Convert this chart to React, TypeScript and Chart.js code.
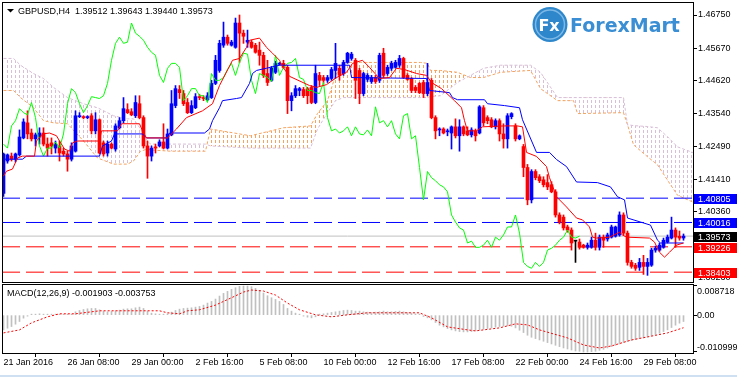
import React, { useEffect, useRef } from "react";
import { Chart, registerables } from "chart.js";

Chart.register(...registerables);

const FONT = "'Liberation Sans', Arial, sans-serif";
const LOGO_FONT = "'DejaVu Sans', Verdana, sans-serif";

// ---------- data ----------
const timeLabels = ["21 Jan 2016", "26 Jan 08:00", "29 Jan 00:00", "2 Feb 16:00", "5 Feb 08:00", "10 Feb 00:00", "12 Feb 16:00", "17 Feb 08:00", "22 Feb 00:00", "24 Feb 16:00", "29 Feb 08:00"];
const timeTickBars = [0, 16, 32, 48, 64, 80, 96, 112, 128, 144, 160];
const priceTicks = [1.4675, 1.4567, 1.4462, 1.4354, 1.4249, 1.4141, 1.4036, 1.3823];
const levelValues = [1.40805, 1.40016, 1.39226, 1.38403];
const levelColors = ["#0000ff", "#0000ff", "#ff0000", "#ff0000"];
const bidPrice = 1.39573;
const macdTicks = [0.008718, 0, -0.010999];
const titleText = "GBPUSD,H4  1.39512 1.39643 1.39440 1.39573";
const macdTitle = "MACD(12,26,9) -0.001903 -0.003753";

const opens = [
  1.4096, 1.4201, 1.4217, 1.4207, 1.4221, 1.4276, 1.4325, 1.4292, 1.4273, 1.4279,
  1.4292, 1.4256, 1.4260, 1.4243, 1.4250, 1.4233, 1.4224, 1.4207, 1.4233, 1.4345,
  1.4345, 1.4342, 1.4348, 1.4299, 1.4335, 1.4260, 1.4227, 1.4256, 1.4240, 1.4309,
  1.4332, 1.4368, 1.4361, 1.4348, 1.4387, 1.4342, 1.4250, 1.4217, 1.4247, 1.4250,
  1.4263, 1.4243, 1.4286, 1.4381, 1.4433, 1.4420, 1.4391, 1.4358, 1.4374, 1.4410,
  1.4407, 1.4400, 1.4407, 1.4453, 1.4495, 1.4577, 1.4603, 1.4577, 1.4570, 1.4649,
  1.4616, 1.4587, 1.4587, 1.4577, 1.4561, 1.4544, 1.4485, 1.4463, 1.4489, 1.4515,
  1.4518, 1.4505, 1.4397, 1.4413, 1.4430, 1.4433, 1.4436, 1.4440, 1.4391, 1.4479,
  1.4472, 1.4463, 1.4469, 1.4495, 1.4502, 1.4485, 1.4521, 1.4534, 1.4528, 1.4495,
  1.4420, 1.4466, 1.4459, 1.4472, 1.4463, 1.4551, 1.4485, 1.4502, 1.4505, 1.4512,
  1.4534, 1.4479, 1.4469, 1.4440, 1.4453, 1.4456, 1.4420, 1.4463, 1.4342, 1.4302,
  1.4305, 1.4296, 1.4292, 1.4312, 1.4283, 1.4312, 1.4299, 1.4286, 1.4299, 1.4292,
  1.4374, 1.4342, 1.4335, 1.4312, 1.4332, 1.4289, 1.4273, 1.4345, 1.4315, 1.4273,
  1.4248, 1.4180, 1.4075, 1.4167, 1.4150, 1.4140, 1.4131, 1.4124, 1.4101, 1.4026,
  1.4019, 1.3987, 1.3977, 1.3941, 1.3938, 1.3928, 1.3921, 1.3921, 1.3944, 1.3921,
  1.3954, 1.3948, 1.3954, 1.3957, 1.3961, 1.4026, 1.3967, 1.3872, 1.3863, 1.3856,
  1.3872, 1.3859, 1.3863, 1.3912, 1.3912, 1.3921, 1.3938, 1.3951, 1.3977, 1.3957,
  1.39512,
];
const highs = [
  1.4227, 1.4224, 1.4227, 1.4227, 1.4302, 1.4338, 1.4364, 1.4305, 1.4292, 1.4309,
  1.4309, 1.4276, 1.4276, 1.4266, 1.4266, 1.4243, 1.4233, 1.4260, 1.4364, 1.4358,
  1.4348, 1.4348, 1.4355, 1.4358, 1.4338, 1.4266, 1.4266, 1.4260, 1.4322, 1.4342,
  1.4407, 1.4387, 1.4371, 1.4413, 1.4413, 1.4348, 1.4266, 1.4250, 1.4256, 1.4270,
  1.4322, 1.4305, 1.4430, 1.4446, 1.4446, 1.4430, 1.4404, 1.4397, 1.4420, 1.4417,
  1.4413, 1.4423, 1.4463, 1.4544, 1.4593, 1.4652, 1.4610, 1.4593, 1.4665, 1.4675,
  1.4626, 1.4626, 1.4593, 1.4583, 1.4587, 1.4554, 1.4528, 1.4508, 1.4525, 1.4521,
  1.4528, 1.4512, 1.4423, 1.4446, 1.4440, 1.4440, 1.4440, 1.4446, 1.4512, 1.4489,
  1.4479, 1.4479, 1.4505, 1.4583, 1.4512, 1.4528, 1.4554, 1.4554, 1.4534, 1.4502,
  1.4489, 1.4485, 1.4479, 1.4479, 1.4551, 1.4567, 1.4512, 1.4525, 1.4528, 1.4544,
  1.4538, 1.4485, 1.4472, 1.4446, 1.4456, 1.4463, 1.4518, 1.4469, 1.4348, 1.4309,
  1.4309, 1.4305, 1.4315, 1.4338, 1.4335, 1.4315, 1.4312, 1.4309, 1.4305, 1.4381,
  1.4381, 1.4348, 1.4342, 1.4338, 1.4338, 1.4322, 1.4355, 1.4358, 1.4322, 1.4286,
  1.4255, 1.4190, 1.4173, 1.4173, 1.4157, 1.4150, 1.4157, 1.4134, 1.4108, 1.4033,
  1.4026, 1.3993, 1.3984, 1.3943, 1.3948, 1.3931, 1.3935, 1.3954, 1.3967, 1.3961,
  1.3961, 1.3967, 1.3993, 1.3990, 1.4036, 1.4033, 1.3974, 1.3879, 1.3869, 1.3885,
  1.3895, 1.3885, 1.3918, 1.3925, 1.3935, 1.3951, 1.3961, 1.4019, 1.3984, 1.3974,
  1.39643,
];
const lows = [
  1.4086, 1.4194, 1.4201, 1.4198, 1.4217, 1.4273, 1.4273, 1.4266, 1.4250, 1.4256,
  1.4250, 1.4217, 1.4224, 1.4227, 1.4201, 1.4217, 1.4168, 1.4201, 1.4230, 1.4342,
  1.4338, 1.4338, 1.4289, 1.4289, 1.4224, 1.4217, 1.4217, 1.4240, 1.4233, 1.4305,
  1.4325, 1.4355, 1.4348, 1.4342, 1.4338, 1.4243, 1.4145, 1.4201, 1.4227, 1.4247,
  1.4240, 1.4240, 1.4283, 1.4374, 1.4404, 1.4381, 1.4355, 1.4355, 1.4371, 1.4400,
  1.4397, 1.4397, 1.4404, 1.4449, 1.4489, 1.4570, 1.4577, 1.4574, 1.4567, 1.4521,
  1.4583, 1.4570, 1.4567, 1.4551, 1.4512, 1.4472, 1.4446, 1.4459, 1.4485, 1.4512,
  1.4502, 1.4355, 1.4364, 1.4407, 1.4413, 1.4407, 1.4387, 1.4387, 1.4387, 1.4446,
  1.4453, 1.4456, 1.4463, 1.4469, 1.4463, 1.4479, 1.4518, 1.4528, 1.4404, 1.4387,
  1.4413, 1.4459, 1.4453, 1.4453, 1.4456, 1.4472, 1.4479, 1.4495, 1.4502, 1.4505,
  1.4469, 1.4463, 1.4423, 1.4423, 1.4420, 1.4407, 1.4413, 1.4338, 1.4273, 1.4283,
  1.4289, 1.4283, 1.4240, 1.4276, 1.4233, 1.4283, 1.4283, 1.4279, 1.4266, 1.4289,
  1.4315, 1.4322, 1.4309, 1.4305, 1.4266, 1.4243, 1.4243, 1.4338, 1.4266, 1.4270,
  1.4150, 1.4059, 1.4065, 1.4140, 1.4131, 1.4117, 1.4108, 1.4098, 1.4019, 1.3997,
  1.3977, 1.3970, 1.3912, 1.3872, 1.3915, 1.3918, 1.3915, 1.3918, 1.3912, 1.3912,
  1.3921, 1.3941, 1.3951, 1.3954, 1.3957, 1.3961, 1.3863, 1.3853, 1.3846, 1.3846,
  1.3833, 1.3830, 1.3859, 1.3905, 1.3908, 1.3918, 1.3935, 1.3948, 1.3921, 1.3944,
  1.39440,
];
const closes = [
  1.4224, 1.4221, 1.4207, 1.4224, 1.4279, 1.4328, 1.4289, 1.4273, 1.4286, 1.4292,
  1.4256, 1.4243, 1.4250, 1.4256, 1.4227, 1.4224, 1.4207, 1.4250, 1.4348, 1.4348,
  1.4342, 1.4345, 1.4299, 1.4335, 1.4227, 1.4224, 1.4256, 1.4243, 1.4315, 1.4332,
  1.4371, 1.4358, 1.4351, 1.4391, 1.4342, 1.4250, 1.4217, 1.4243, 1.4243, 1.4263,
  1.4243, 1.4289, 1.4387, 1.4436, 1.4423, 1.4387, 1.4358, 1.4381, 1.4410, 1.4407,
  1.4404, 1.4413, 1.4453, 1.4528, 1.4583, 1.4603, 1.4583, 1.4587, 1.4649, 1.4616,
  1.4606, 1.4593, 1.4570, 1.4554, 1.4544, 1.4479, 1.4456, 1.4502, 1.4518, 1.4518,
  1.4505, 1.4397, 1.4413, 1.4436, 1.4436, 1.4413, 1.4413, 1.4391, 1.4485, 1.4463,
  1.4463, 1.4472, 1.4498, 1.4518, 1.4479, 1.4521, 1.4551, 1.4548, 1.4463, 1.4420,
  1.4485, 1.4479, 1.4472, 1.4459, 1.4544, 1.4479, 1.4505, 1.4518, 1.4521, 1.4534,
  1.4472, 1.4466, 1.4430, 1.4430, 1.4423, 1.4420, 1.4456, 1.4342, 1.4299, 1.4305,
  1.4292, 1.4299, 1.4312, 1.4283, 1.4312, 1.4289, 1.4286, 1.4302, 1.4283, 1.4377,
  1.4325, 1.4332, 1.4312, 1.4332, 1.4289, 1.4273, 1.4348, 1.4355, 1.4273, 1.4283,
  1.4180, 1.4075, 1.4167, 1.4147, 1.4137, 1.4124, 1.4117, 1.4101, 1.4026, 1.4003,
  1.3984, 1.3977, 1.3935, 1.3941, 1.3921, 1.3921, 1.3928, 1.3944, 1.3921, 1.3954,
  1.3944, 1.3961, 1.3987, 1.3987, 1.4026, 1.3967, 1.3872, 1.3859, 1.3853, 1.3872,
  1.3859, 1.3872, 1.3912, 1.3918, 1.3928, 1.3944, 1.3954, 1.3977, 1.3954, 1.3951,
  1.39573,
];

// Ichimoku lines: [bar, price]
const tenkanPts = [
  [0, 1.4152], [0.75, 1.4168], [2.25, 1.4175], [3.5, 1.4211], [4.75, 1.4217], [7.75, 1.4217], [8.25, 1.4266],
  [9.75, 1.4289], [11.5, 1.4292], [13.25, 1.4283], [14, 1.4266], [15.25, 1.424], [16.5, 1.4233], [17.25, 1.426],
  [18.5, 1.4266], [24, 1.4266], [24.5, 1.4299], [28.5, 1.4299], [29.5, 1.4322], [34, 1.4322], [34.75, 1.4299],
  [35.75, 1.4276], [41, 1.4276], [43.25, 1.4305], [45.75, 1.4342], [49.75, 1.4364], [52.25, 1.4387], [54, 1.4446],
  [57.25, 1.4528], [59, 1.4534], [60.75, 1.457], [61.5, 1.4593], [64, 1.46], [65.75, 1.457], [67.25, 1.4551],
  [69, 1.4528], [69.75, 1.4508], [71.5, 1.4476], [76.5, 1.4446], [78.25, 1.444], [80.75, 1.4449], [83.25, 1.4472],
  [85.75, 1.4489], [87.25, 1.4518], [89.75, 1.4528], [91.5, 1.4505], [94, 1.4469], [96.5, 1.4472], [98.25, 1.4502],
  [100.25, 1.4498], [103.25, 1.4485], [105.75, 1.4479], [107, 1.4456], [109.5, 1.4436], [112.75, 1.4397],
  [114.5, 1.4374], [115.25, 1.4332], [116, 1.4299], [118.25, 1.4299], [119.75, 1.4312], [125.25, 1.4315],
  [128.5, 1.4315], [129.75, 1.4312], [130.75, 1.4229], [133.25, 1.4216], [135.75, 1.4183], [136.5, 1.4147],
  [138.25, 1.4085], [140.75, 1.4052], [143.25, 1.4016], [144.75, 1.401], [146.5, 1.3987], [147.25, 1.3954],
  [148.25, 1.3951], [151.5, 1.3954], [154, 1.397], [154.75, 1.3961], [155.75, 1.3954], [161.5, 1.3951],
  [162.75, 1.3938], [164, 1.3905], [165.25, 1.3889], [166.5, 1.3905], [168.25, 1.3928], [170, 1.3935],
];
const kijunPts = [
  [0, 1.4207], [4.75, 1.4207], [5.75, 1.4217], [24, 1.4217], [24.75, 1.425], [27, 1.4266], [27.75, 1.4289],
  [34.75, 1.4289], [35.75, 1.4276], [41, 1.4276], [41.5, 1.4292], [50.25, 1.4292], [51.5, 1.4305], [52.25, 1.4332],
  [54, 1.4374], [54.75, 1.4397], [58.25, 1.4404], [59.5, 1.4407], [61.5, 1.4453], [62.25, 1.4485], [63.25, 1.4495],
  [69, 1.4512], [86.5, 1.4512], [87, 1.4472], [105.75, 1.4469], [106.5, 1.443], [111.5, 1.4423], [112.25, 1.4407],
  [113.5, 1.44], [120.25, 1.44], [121, 1.4387], [125.25, 1.4381], [129, 1.4374], [129.75, 1.4335], [133.25, 1.4229],
  [136.5, 1.4229], [138.25, 1.4206], [140.75, 1.4183], [143.25, 1.4133], [148.5, 1.4131], [151.75, 1.4117],
  [153.5, 1.4085], [155.25, 1.4075], [156, 1.4016], [159.25, 1.4003], [161.75, 1.3993], [163.5, 1.3944],
  [164.25, 1.3935], [170, 1.3935],
];
const cloudBars = [0, 2.5, 4.25, 7.5, 10, 12.5, 16, 20, 23.5, 27.5, 31, 32.5, 34.25, 36, 36.75, 41.75, 50.5, 51.75, 61.75, 70, 76.75, 78.5, 81, 83, 85, 89.25, 104.25, 106, 106.75, 109.25, 113.5, 116.75, 120, 124.25, 131.75, 134.25, 138.5, 142.5, 143.5, 155, 156, 157.5, 161, 163.5, 166, 168.5, 172.5];
const senkouA = [1.4430, 1.4430, 1.4407, 1.4374, 1.4332, 1.4325, 1.4322, 1.4266, 1.4211, 1.4191, 1.4191, 1.4201, 1.4233, 1.4240, 1.4237, 1.4233, 1.4233, 1.4305, 1.4283, 1.4309, 1.4315, 1.4355, 1.4397, 1.4479, 1.4521, 1.4521, 1.4521, 1.4518, 1.4495, 1.4495, 1.4489, 1.4472, 1.4472, 1.4489, 1.4495, 1.4436, 1.4397, 1.4397, 1.4355, 1.4358, 1.4319, 1.4254, 1.4215, 1.4189, 1.4139, 1.4090, 1.4067];
const senkouB = [1.4534, 1.4534, 1.4512, 1.4485, 1.4469, 1.4440, 1.4407, 1.4387, 1.4374, 1.4348, 1.4338, 1.4338, 1.4305, 1.4266, 1.4256, 1.4256, 1.4256, 1.4250, 1.4243, 1.4243, 1.4243, 1.4305, 1.4358, 1.4397, 1.4407, 1.4407, 1.4407, 1.4407, 1.4410, 1.4413, 1.4456, 1.4479, 1.4502, 1.4512, 1.4512, 1.4489, 1.4407, 1.4407, 1.4407, 1.4407, 1.4319, 1.4316, 1.4313, 1.4309, 1.4280, 1.4247, 1.4228];
const CHIKOU_SHIFT = 26;

const macdHist = [
  -0.0044, -0.0039, -0.0034, -0.0027, -0.0019, -0.0009, -0.0002, 0.0001, 0.0003, 0.0004,
  0.0003, 0.0002, 0.0002, 0.0003, 0.0002, 0.0001, 0.0001, 0.0003, 0.0010, 0.0014,
  0.0017, 0.0019, 0.0020, 0.0020, 0.0016, 0.0012, 0.0010, 0.0011, 0.0013, 0.0015,
  0.0018, 0.0019, 0.0019, 0.0022, 0.0024, 0.0020, 0.0012, 0.0006, 0.0004, 0.0003,
  0.0002, 0.0004, 0.0009, 0.0014, 0.0018, 0.0020, 0.0021, 0.0022, 0.0024, 0.0026,
  0.0030, 0.0036, 0.0041, 0.0048, 0.0057, 0.0065, 0.0071, 0.0077, 0.0082, 0.0086,
  0.0087, 0.0087, 0.0085, 0.0080, 0.0074, 0.0066, 0.0058, 0.0052, 0.0047, 0.0041,
  0.0032, 0.0020, 0.0012, 0.0006, 0.0002, -0.0002, -0.0006, -0.0008, -0.0005, 0.0002,
  0.0004, 0.0006, 0.0008, 0.0010, 0.0012, 0.0014, 0.0015, 0.0014, 0.0012, 0.0012,
  0.0010, 0.0009, 0.0008, 0.0009, 0.0010, 0.0012, 0.0010, 0.0010, 0.0011, 0.0012,
  0.0010, 0.0008, 0.0006, 0.0004, 0.0002, -0.0004, -0.0008, -0.0014, -0.0022, -0.0030,
  -0.0035, -0.0040, -0.0044, -0.0047, -0.0049, -0.0050, -0.0050, -0.0049, -0.0047, -0.0044,
  -0.0042, -0.0040, -0.0038, -0.0036, -0.0034, -0.0033, -0.0032, -0.0033, -0.0038, -0.0045,
  -0.0052, -0.0060, -0.0066, -0.0070, -0.0074, -0.0078, -0.0082, -0.0086, -0.0090, -0.0094,
  -0.0098, -0.0101, -0.0104, -0.0107, -0.0108, -0.0110, -0.0110, -0.0109, -0.0108, -0.0105,
  -0.0102, -0.0098, -0.0094, -0.0090, -0.0086, -0.0082, -0.0079, -0.0076, -0.0073, -0.0070,
  -0.0068, -0.0065, -0.0062, -0.0058, -0.0054, -0.0049, -0.0044, -0.0037, -0.0030, -0.0024,
  -0.001903,
];
const signalBars = [0, 4, 7, 11, 14, 18, 24, 39, 41, 44, 46, 49, 53, 57, 60, 62, 65, 68, 71, 74, 78, 82, 86, 91, 104, 107, 111, 116, 118, 124, 128, 131, 134, 141, 145, 149, 152, 157, 161, 166, 170];
const signalVals = [-0.0053, -0.0044, -0.0023, -0.0005, 0.0004, 0.0004, 0.0013, 0.0013, 0.0007, 0.0004, 0.0013, 0.0016, 0.0030, 0.0052, 0.0069, 0.0075, 0.0072, 0.0060, 0.0036, 0.0016, 0.0001, -0.0005, 0.0001, 0.0007, 0.0007, -0.0008, -0.0035, -0.0044, -0.0047, -0.0038, -0.0026, -0.0029, -0.0044, -0.0068, -0.0089, -0.0098, -0.0092, -0.0074, -0.0065, -0.0053, -0.003753];

// ---------- view settings ----------
const X_MIN = -0.375;
const X_MAX = 172.375;
const Y_MIN = 1.38084;
const Y_MAX = 1.47172;
const MACD_MIN = -0.0113;
const MACD_MAX = 0.0093;
const AXIS_W = 44;
const BULL = "#0000ff";
const BEAR = "#ff0000";
const DOJI = "#000000";

function makeHatch(color: string) {
  const c = document.createElement("canvas");
  c.width = 4;
  c.height = 5;
  const g = c.getContext("2d")!;
  g.fillStyle = color;
  g.fillRect(3, 0, 1, 3);
  return g.createPattern(c, "repeat");
}

const framePlugin = {
  id: "frame",
  afterDraw(chart: any) {
    const { ctx, chartArea: a } = chart;
    ctx.save();
    ctx.strokeStyle = "#000";
    ctx.lineWidth = 1;
    ctx.strokeRect(a.left + 0.5, a.top + 0.5, a.right - a.left, a.bottom - a.top);
    ctx.restore();
  },
};

const mainOverlay = {
  id: "mainOverlay",
  afterDraw(chart: any) {
    const { ctx, chartArea: a } = chart;
    const ys = chart.scales.y;
    ctx.save();
    const box = (v: number, bg: string) => {
      const py = Math.round(ys.getPixelForValue(v));
      ctx.fillStyle = bg;
      ctx.fillRect(a.right + 1, py - 4, 737 - a.right - 1, 10);
      ctx.fillStyle = "#fff";
      ctx.font = `9px ${FONT}`;
      ctx.textAlign = "left";
      ctx.textBaseline = "alphabetic";
      ctx.fillText(v.toFixed(5), a.right + 5, py + 4);
    };
    levelValues.forEach((v, i) => box(v, levelColors[i]));
    box(bidPrice, "#000000");

    // title
    ctx.fillStyle = "#000";
    ctx.beginPath();
    ctx.moveTo(7, 9);
    ctx.lineTo(14, 9);
    ctx.lineTo(10.5, 12.5);
    ctx.closePath();
    ctx.fill();
    ctx.font = `9px ${FONT}`;
    ctx.textAlign = "left";
    ctx.textBaseline = "alphabetic";
    ctx.fillText(titleText, 18, 14);

    // logo
    ctx.beginPath();
    ctx.arc(550, 24.5, 17.5, 0, Math.PI * 2);
    ctx.fillStyle = "#2e87cb";
    ctx.fill();
    ctx.lineWidth = 1.5;
    ctx.strokeStyle = "#7db8e6";
    ctx.beginPath();
    ctx.arc(550, 24.5, 14.5, 0, Math.PI * 2);
    ctx.stroke();
    ctx.fillStyle = "#ffffff";
    ctx.font = `bold 16px ${LOGO_FONT}`;
    ctx.textAlign = "center";
    ctx.fillText("Fx", 549, 31);
    ctx.fillStyle = "#3a8ed3";
    ctx.font = `bold 19px ${LOGO_FONT}`;
    ctx.textAlign = "left";
    ctx.fillText("ForexMart", 570, 32);
    ctx.restore();
  },
};

const macdOverlay = {
  id: "macdOverlay",
  afterDraw(chart: any) {
    const { ctx, chartArea: a } = chart;
    const ys = chart.scales.y;
    ctx.save();
    ctx.fillStyle = "#000";
    ctx.font = `9px ${FONT}`;
    ctx.textAlign = "left";
    ctx.textBaseline = "alphabetic";
    ctx.fillText(macdTitle, 7, 12);
    const x = a.right + 4;
    ctx.fillText(String(macdTicks[0]), x, ys.getPixelForValue(macdTicks[0]) + 8);
    ctx.fillText("0.00", x, ys.getPixelForValue(macdTicks[1]) + 3);
    ctx.fillText(String(macdTicks[2]), x, ys.getPixelForValue(macdTicks[2]) - 2);
    ctx.restore();
  },
};

export default function App() {
  const mainRef = useRef<HTMLCanvasElement>(null);
  const macdRef = useRef<HTMLCanvasElement>(null);

  useEffect(() => {
    const sandy = makeHatch("#F4A460");
    const thistle = makeHatch("#D8BFD8");
    const idx = opens.map((_, i) => i);
    const candleColor = (i: number) => (closes[i] > opens[i] ? BULL : closes[i] < opens[i] ? BEAR : DOJI);
    const colors = idx.map(candleColor);
    const lineBase = { type: "line", pointRadius: 0, borderWidth: 1, tension: 0, fill: false };

    const levelSets = levelValues.map((v, i) => ({
      ...lineBase,
      data: [{ x: X_MIN, y: v }, { x: X_MAX, y: v }],
      borderColor: levelColors[i],
      borderDash: [18, 6],
      order: 15,
    }));

    const main = new Chart(mainRef.current!, {
      type: "bar",
      data: {
        datasets: [
          {
            ...lineBase,
            data: cloudBars.map((b, i) => ({ x: b, y: senkouA[i] })),
            borderColor: "#F4A460",
            borderDash: [3, 2],
            fill: { target: "+1", above: sandy, below: thistle },
            order: 20,
          },
          {
            ...lineBase,
            data: cloudBars.map((b, i) => ({ x: b, y: senkouB[i] })),
            borderColor: "#D8BFD8",
            borderDash: [3, 2],
            order: 19,
          },
          ...levelSets,
          {
            ...lineBase,
            data: [{ x: X_MIN, y: bidPrice }, { x: X_MAX, y: bidPrice }],
            borderColor: "#C0C0C0",
            order: 15,
          },
          {
            type: "bar",
            data: idx.map((i) => ({ x: i, y: [lows[i], highs[i]] })),
            backgroundColor: colors,
            barThickness: 1,
            grouped: false,
            borderWidth: 0,
            order: 10,
          },
          {
            type: "bar",
            data: idx.map((i) => ({ x: i, y: [opens[i], closes[i]] })),
            backgroundColor: colors,
            barThickness: 3,
            minBarLength: 1,
            grouped: false,
            borderWidth: 0,
            order: 9,
          },
          {
            ...lineBase,
            data: closes.slice(CHIKOU_SHIFT).map((c, i) => ({ x: i, y: c })),
            borderColor: "#00ff00",
            order: 3,
          },
          {
            ...lineBase,
            data: kijunPts.map(([b, v]) => ({ x: b, y: v })),
            borderColor: "#0000ff",
            order: 2,
          },
          {
            ...lineBase,
            data: tenkanPts.map(([b, v]) => ({ x: b, y: v })),
            borderColor: "#ff0000",
            order: 1,
          },
        ] as any,
      },
      options: {
        animation: false,
        responsive: false,
        maintainAspectRatio: false,
        events: [],
        layout: { padding: { left: 2, top: 2, right: 0, bottom: 2 } },
        plugins: { legend: { display: false }, tooltip: { enabled: false } },
        scales: {
          x: { type: "linear", min: X_MIN, max: X_MAX, display: false, offset: false },
          y: {
            position: "right",
            min: Y_MIN,
            max: Y_MAX,
            afterFit(s: any) {
              s.width = AXIS_W;
              s.paddingTop = 0;
              s.paddingBottom = 0;
            },
            afterBuildTicks(s: any) {
              s.ticks = priceTicks.map((v) => ({ value: v }));
            },
            ticks: {
              autoSkip: false,
              padding: 1,
              color: "#000",
              font: { family: FONT, size: 9 },
              callback: (v: any) => Number(v).toFixed(5),
            },
            grid: { drawOnChartArea: false, drawTicks: true, tickLength: 4, color: "#000" },
            border: { display: false },
          },
        },
      } as any,
      plugins: [framePlugin, mainOverlay],
    });

    const macd = new Chart(macdRef.current!, {
      type: "bar",
      data: {
        datasets: [
          {
            type: "bar",
            data: idx.map((i) => ({ x: i, y: macdHist[i] })),
            backgroundColor: "#C0C0C0",
            barThickness: 1,
            minBarLength: 1,
            borderWidth: 0,
            grouped: false,
            order: 5,
          },
          {
            ...lineBase,
            data: signalBars.map((b, i) => ({ x: b, y: signalVals[i] })),
            borderColor: "#ff0000",
            borderDash: [2, 2],
            order: 1,
          },
        ] as any,
      },
      options: {
        animation: false,
        responsive: false,
        maintainAspectRatio: false,
        events: [],
        layout: { padding: { left: 2, top: 0, right: 0, bottom: 0 } },
        plugins: { legend: { display: false }, tooltip: { enabled: false } },
        scales: {
          x: {
            type: "linear",
            position: "bottom",
            min: X_MIN,
            max: X_MAX,
            offset: false,
            afterFit(s: any) {
              s.height = 24;
              s.paddingLeft = 0;
              s.paddingRight = 0;
            },
            afterBuildTicks(s: any) {
              s.ticks = timeTickBars.map((v) => ({ value: v }));
            },
            ticks: {
              autoSkip: false,
              maxRotation: 0,
              minRotation: 0,
              align: "start",
              padding: 0,
              color: "#000",
              font: { family: FONT, size: 9 },
              callback: (_v: any, i: number) => timeLabels[i],
            },
            grid: { drawOnChartArea: false, drawTicks: true, tickLength: 4, color: "#000" },
            border: { display: false },
          },
          y: {
            position: "right",
            min: MACD_MIN,
            max: MACD_MAX,
            afterFit(s: any) {
              s.width = AXIS_W;
              s.paddingTop = 0;
              s.paddingBottom = 0;
            },
            afterBuildTicks(s: any) {
              s.ticks = macdTicks.map((v) => ({ value: v }));
            },
            ticks: { display: false },
            grid: { drawOnChartArea: false, drawTicks: true, tickLength: 4, color: "#000" },
            border: { display: false },
          },
        },
      } as any,
      plugins: [framePlugin, macdOverlay],
    });

    return () => {
      main.destroy();
      macd.destroy();
    };
  }, []);

  return (
    <div style={{ position: "fixed", left: 0, top: 0, width: 737, height: 377, background: "#ffffff", overflow: "hidden" }}>
      <canvas ref={mainRef} width={737} height={284} style={{ position: "absolute", left: 0, top: 0, width: 737, height: 284 }} />
      <canvas ref={macdRef} width={737} height={93} style={{ position: "absolute", left: 0, top: 284, width: 737, height: 93 }} />
      <div style={{ position: "absolute", left: 0, top: 375, width: 737, height: 2, background: "#cfe0f3" }} />
    </div>
  );
}
